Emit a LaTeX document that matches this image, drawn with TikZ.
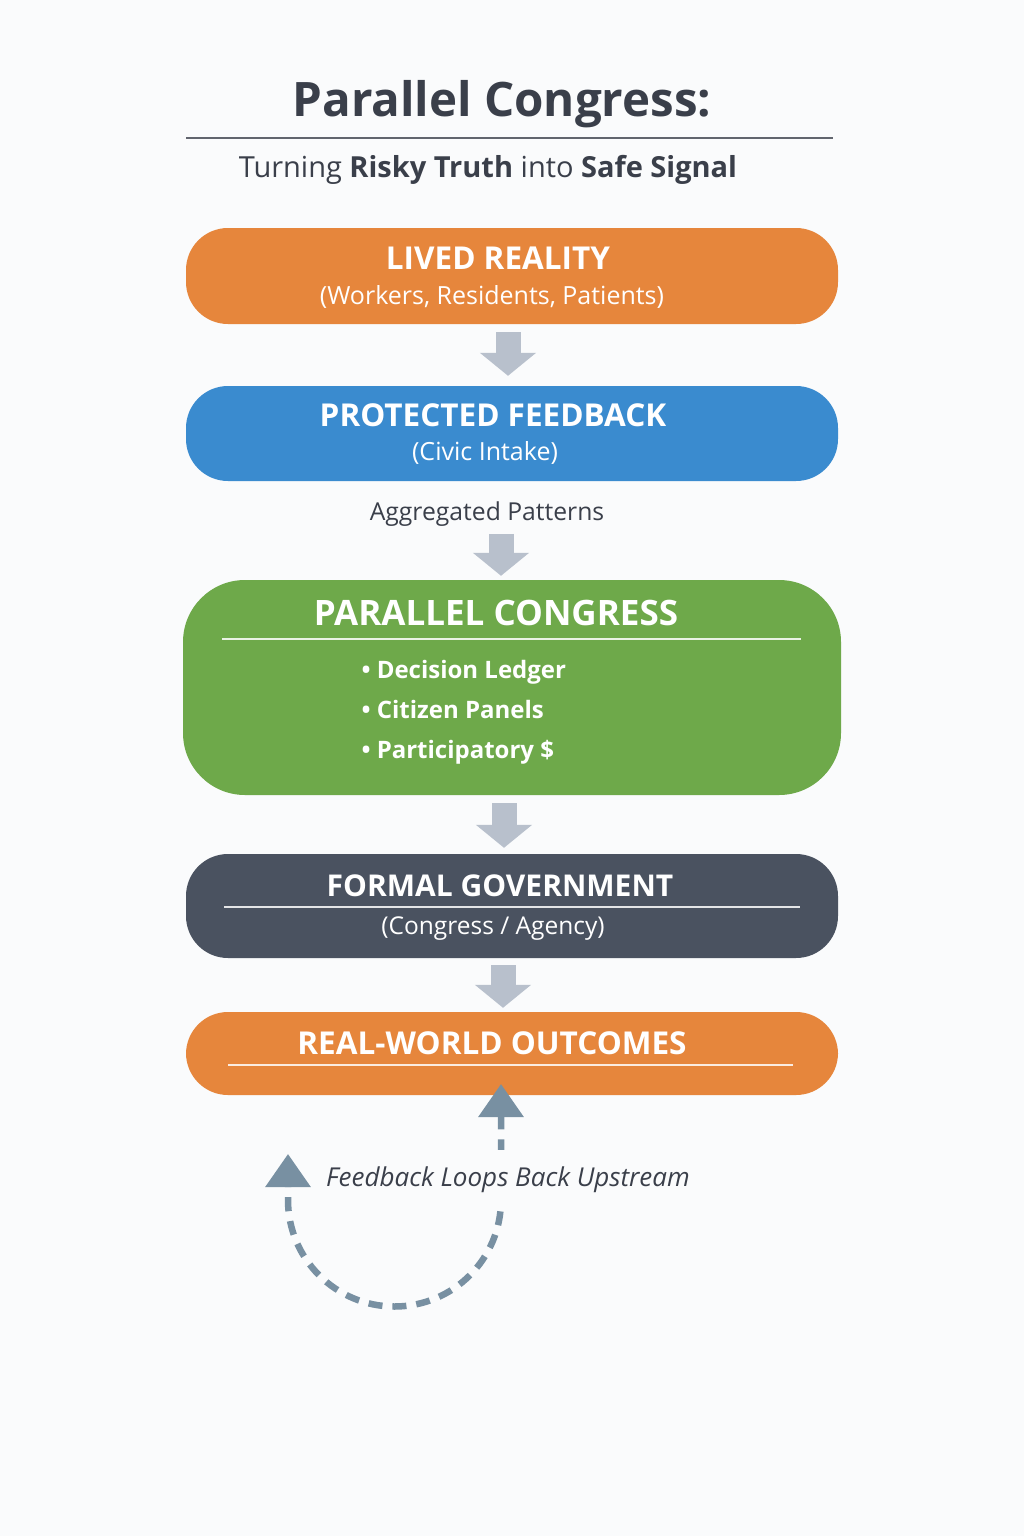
\documentclass[tikz,border=0pt]{standalone}
\usepackage{fontspec}
\setmainfont{Open Sans}
\definecolor{pcbg}{RGB}{250,251,252}
\definecolor{pcink}{RGB}{58,63,74}
\definecolor{pcorange}{RGB}{230,134,60}
\definecolor{pcblue}{RGB}{58,139,207}
\definecolor{pcgreen}{RGB}{110,169,74}
\definecolor{pcdark}{RGB}{74,82,96}
\definecolor{pcarrow}{RGB}{184,192,204}
\definecolor{pcloop}{RGB}{120,144,162}
\usetikzlibrary{arrows.meta,positioning}

\begin{document}
\begin{tikzpicture}[x=1pt,y=-1pt,
  stage/.style={rounded corners=42pt,minimum width=652pt,minimum height=96pt,inner sep=0pt},
  head/.style={text=white,font=\bfseries\fontsize{31.5}{36}\selectfont},
  sub/.style={text=white,font=\fontsize{25}{30}\selectfont},
  item/.style={text=white,anchor=base west,font=\bfseries\fontsize{24}{28}\selectfont},
  divider/.style={draw=white,opacity=0.85,line width=1.6pt},
  flow/.style={draw=pcarrow,line width=25pt,-{Triangle[width=55pt,length=23pt]}},
  loopline/.style={draw=pcloop,line width=6.5pt,dash pattern=on 14pt off 10pt,
    {Triangle[width=44pt,length=33pt]}-{Triangle[width=44pt,length=33pt]}}]
\fill[pcbg] (0,0) rectangle (1024,1536);

% title
\node[text=pcink,font=\bfseries\fontsize{47.5}{54}\selectfont] (title) at (502,104) {Parallel Congress:};
\draw[pcink!80,line width=1.2pt] (186,138) -- (833,138);
\node[text=pcink,font=\fontsize{29}{34}\selectfont] (subtitle) at (488,170)
  {Turning \textbf{Risky Truth} into \textbf{Safe Signal}};

% stages
\node[stage,fill=pcorange] (lived) at (512,276) {};
\node[head] (livedhead) at (498,258) {LIVED REALITY};
\node[sub] (livedsub) at (492,297) {(Workers, Residents, Patients)};

\node[stage,fill=pcblue,minimum height=95pt] (feedback) at (512,433.5) {};
\node[head] (feedbackhead) at (493,415) {PROTECTED FEEDBACK};
\node[sub] (feedbacksub) at (485,453) {(Civic Intake)};

\node[text=pcink,font=\fontsize{24.7}{29}\selectfont] (patterns) at (487,514) {Aggregated Patterns};

\node[stage,fill=pcgreen,minimum width=658pt,minimum height=215pt,rounded corners=62pt] (congress) at (512,687.5) {};
\node[head,font=\bfseries\fontsize{35}{40}\selectfont] (congresshead) at (496,613) {PARALLEL CONGRESS};
\draw[divider] (222,639) -- (801,639);
\node[item] (ledger) at (358,678) {• Decision Ledger};
\node[item] (panels) at (358,718) {• Citizen Panels};
\node[item] (budget) at (358,758) {• Participatory \$};

\node[stage,fill=pcdark,minimum height=104pt] (formal) at (512,906) {};
\node[head,font=\bfseries\fontsize{30}{34}\selectfont] (formalhead) at (500,886) {FORMAL GOVERNMENT};
\draw[divider] (224,907) -- (800,907);
\node[sub,font=\fontsize{24.5}{29}\selectfont] (formalsub) at (493,929) {(Congress / Agency)};

\node[stage,fill=pcorange,minimum height=83pt] (outcomes) at (512,1053.5) {};
\node[head] (outcomeshead) at (492,1043) {REAL-WORLD OUTCOMES};
\draw[divider] (228,1065) -- (793,1065);

% flow arrows
\draw[flow] ([xshift=-4pt,yshift=-8pt]lived.south) -- ([xshift=-4pt,yshift=10pt]feedback.north);
\draw[flow] ([xshift=14pt,yshift=-4pt]patterns.south) -- ([xshift=-11pt,yshift=4pt]congress.north);
\draw[flow] ([xshift=-8pt,yshift=-8pt]congress.south) -- ([xshift=-8pt,yshift=6pt]formal.north);
\draw[flow] ([xshift=-9pt,yshift=-7pt]formal.south) -- ([xshift=-9pt,yshift=4pt]outcomes.north);

% feedback loop
\coordinate (looptop) at (501,1084);
\coordinate (loopend) at (288,1154);
\draw[loopline] (looptop) -- (501,1200) arc[start angle=0,end angle=180,radius=106.5] -- (loopend);
\node[fill=pcbg,text=pcink,inner xsep=5pt,inner ysep=17pt,font=\itshape\fontsize{26}{30}\selectfont] (looplabel) at (508,1180) {Feedback Loops Back Upstream};
\end{tikzpicture}
\end{document}
